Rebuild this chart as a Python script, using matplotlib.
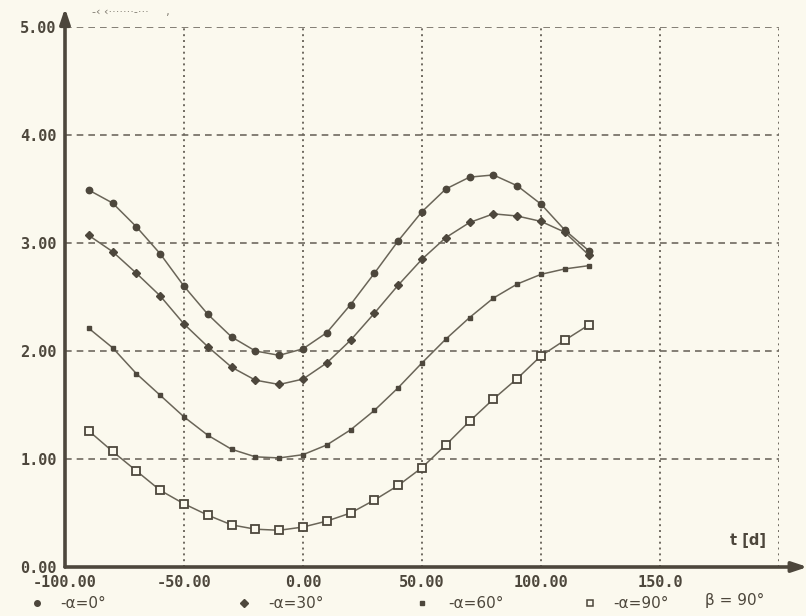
import matplotlib
matplotlib.use("Agg")
import matplotlib.pyplot as plt
from matplotlib.lines import Line2D

# ---- data ----
t_days = [-90, -80, -70, -60, -50, -40, -30, -20, -10, 0, 10, 20, 30, 40, 50,
          60, 70, 80, 90, 100, 110, 120]
alpha_0 = [3.49, 3.37, 3.15, 2.90, 2.60, 2.34, 2.13, 2.00, 1.96, 2.02, 2.17, 2.43,
           2.72, 3.02, 3.29, 3.50, 3.61, 3.63, 3.53, 3.36, 3.12, 2.93]
alpha_30 = [3.07, 2.92, 2.72, 2.51, 2.25, 2.04, 1.85, 1.73, 1.69, 1.74, 1.89, 2.10,
            2.35, 2.61, 2.85, 3.05, 3.19, 3.27, 3.25, 3.20, 3.10, 2.89]
alpha_60 = [2.21, 2.03, 1.79, 1.59, 1.39, 1.22, 1.09, 1.02, 1.01, 1.04, 1.13, 1.27,
            1.45, 1.66, 1.89, 2.11, 2.31, 2.49, 2.62, 2.71, 2.76, 2.79]
alpha_90 = [1.26, 1.07, 0.89, 0.71, 0.585, 0.48, 0.39, 0.35, 0.34, 0.37, 0.425, 0.50,
            0.62, 0.755, 0.92, 1.13, 1.35, 1.555, 1.745, 1.955, 2.10, 2.24]

x_ticks = [-100, -50, 0, 50, 100, 150]
x_tick_labels = ["-100.00", "-50.00", "0.00", "50.00", "100.00", "150.0"]
y_ticks = [0, 1, 2, 3, 4, 5]
y_tick_labels = ["0.00", "1.00", "2.00", "3.00", "4.00", "5.00"]
legend_labels = ["-α=0°", "-α=30°", "-α=60°", "-α=90°"]
beta_label = "β = 90°"
x_axis_label = "t [d]"

# ---- style ----
BG = "#fbf9ee"
INK = "#4d473c"
LINE = "#6a6558"
FONT = "DejaVu Sans Mono"

fig = plt.figure(figsize=(8.06, 6.16), dpi=100, facecolor=BG)
ax = fig.add_axes([65 / 806, 1 - 567 / 616, (779 - 65) / 806, (567 - 27) / 616])
ax.set_facecolor(BG)
ax.set_xlim(-100, 200)
ax.set_ylim(0, 5)

for s in ["top", "right", "left", "bottom"]:
    ax.spines[s].set_visible(False)

# grid
for yv in [1, 2, 3, 4, 5]:
    ax.axhline(yv, color="#6f6a60", lw=1.2, ls=(0, (4, 3)), zorder=1)
for xv in [-50, 0, 50, 100, 150, 200]:
    ax.axvline(xv, color="#6f6a60", lw=1.4, ls=(0, (1, 2.0)), zorder=1)

# axes with arrows
ax.annotate("", xy=(1.04, 0), xytext=(0, 0), xycoords="axes fraction",
            arrowprops=dict(arrowstyle="-|>,head_length=0.9,head_width=0.3",
                            color=INK, lw=2.6, shrinkA=0, shrinkB=0),
            annotation_clip=False, zorder=5)
ax.annotate("", xy=(0, 1.035), xytext=(0, 0), xycoords="axes fraction",
            arrowprops=dict(arrowstyle="-|>,head_length=0.9,head_width=0.3",
                            color=INK, lw=2.6, shrinkA=0, shrinkB=0),
            annotation_clip=False, zorder=5)

series = [
    (alpha_0, dict(marker="o", ms=4.6, mfc=INK, mec=INK)),
    (alpha_30, dict(marker="D", ms=4.3, mfc=INK, mec=INK)),
    (alpha_60, dict(marker="s", ms=3.0, mfc=INK, mec=INK)),
    (alpha_90, dict(marker="s", ms=5.6, mfc=BG, mec=INK, mew=1.3)),
]
for vals, kw in series:
    ax.plot(t_days, vals, color=LINE, lw=1.1, zorder=3, **kw)

ax.set_xticks(x_ticks)
ax.set_xticklabels(x_tick_labels)
ax.set_yticks(y_ticks)
ax.set_yticklabels(y_tick_labels)
ax.tick_params(length=0, colors=INK, labelsize=11)
for lab in ax.get_xticklabels() + ax.get_yticklabels():
    lab.set_fontfamily(FONT)
    lab.set_fontweight("bold")
ax.tick_params(axis="y", pad=6)
ax.tick_params(axis="x", pad=6)

# axis label
fig.text(748 / 806, 1 - 541 / 616, x_axis_label, ha="center", va="center",
         fontsize=10.5, fontweight="bold", color=INK, family="DejaVu Sans")

# faint header scribble
fig.text(92 / 806, 1 - 12 / 616, "-‹ ‹·······-···     ,", ha="left", va="center",
         fontsize=8, color="#7d786d", family="DejaVu Sans")

# bottom legend
legend_pos = [(37, 60), (244, 268), (422, 448), (590, 613)]
legend_markers = [dict(marker="o", ms=4, mfc=INK, mec=INK),
                  dict(marker="D", ms=4, mfc=INK, mec=INK),
                  dict(marker="s", ms=3, mfc=INK, mec=INK),
                  dict(marker="s", ms=5, mfc=BG, mec=INK, mew=1.1)]
ly = 1 - 603 / 616
for (mx, tx), lab, mk in zip(legend_pos, legend_labels, legend_markers):
    fig.add_artist(Line2D([mx / 806], [ly], transform=fig.transFigure, ls="none", **mk))
    fig.text(tx / 806, ly, lab, ha="left", va="center", fontsize=11,
             color=INK, family="DejaVu Sans")
fig.text(705 / 806, ly + 0.004, beta_label, ha="left", va="center", fontsize=11,
         color=INK, family="DejaVu Sans")

fig.savefig("out.png", dpi=100, facecolor=BG)
